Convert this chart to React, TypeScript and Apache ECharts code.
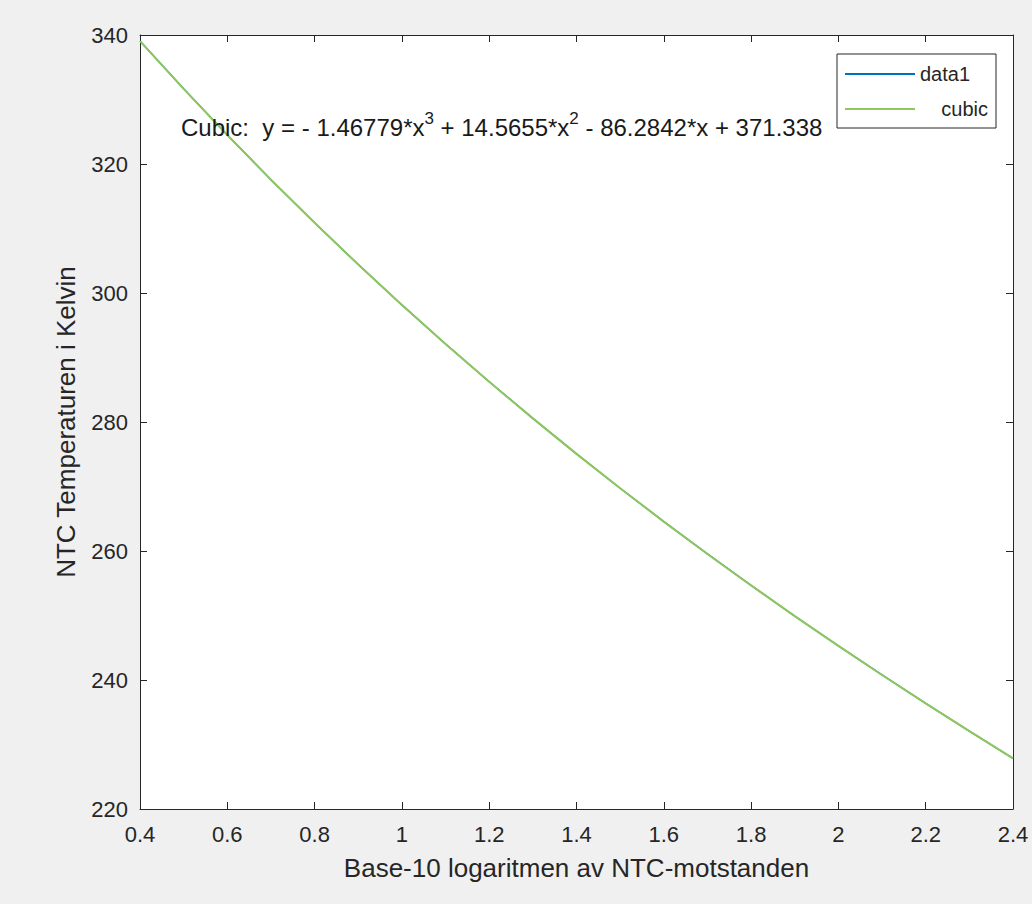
import React, { useEffect, useRef } from "react";
import * as echarts from "echarts";

const xValues = [0.4, 0.5, 0.6, 0.7, 0.8, 0.9, 1.0, 1.1, 1.2, 1.3, 1.4, 1.5, 1.6, 1.7, 1.8, 1.9, 2.0, 2.1, 2.2, 2.3, 2.4];
const data1Values = [339.06, 331.65, 324.49, 317.57, 310.88, 304.41, 298.15, 292.1, 286.24, 280.56, 275.06, 269.73, 264.56, 259.54, 254.66, 249.91, 245.29, 240.78, 236.38, 232.08, 227.86];
const cubicValues = [339.06, 331.65, 324.49, 317.57, 310.88, 304.41, 298.15, 292.1, 286.24, 280.56, 275.06, 269.73, 264.56, 259.54, 254.66, 249.91, 245.29, 240.78, 236.38, 232.08, 227.86];
const seriesNames = ["data1", "cubic"];
const xAxisTitle = "Base-10 logaritmen av NTC-motstanden";
const yAxisTitle = "NTC Temperaturen i Kelvin";
const fitText = "Cubic:  y = - 1.46779*x{sup|3} + 14.5655*x{sup|2} - 86.2842*x + 371.338";

const FONT = "'Liberation Sans', Arial, Helvetica, sans-serif";
const INK = "#262626";

export default function App() {
  const ref = useRef<HTMLDivElement>(null);
  useEffect(() => {
    if (!ref.current) return;
    const chart = echarts.init(ref.current, null, { renderer: "svg" });
    const axisCommon = {
      type: "value" as const,
      axisLine: { show: true, onZero: false, lineStyle: { color: INK, width: 1 } },
      axisTick: { show: true, inside: true, length: 7, lineStyle: { color: INK, width: 1 } },
      splitLine: { show: false },
    };
    chart.setOption({
      animation: false,
      backgroundColor: "#f0f0f0",
      textStyle: { fontFamily: FONT },
      grid: {
        left: 140,
        top: 35,
        width: 873,
        height: 774,
        show: true,
        backgroundColor: "#ffffff",
        borderWidth: 0,
      },
      xAxis: [
        {
          ...axisCommon,
          position: "bottom",
          min: 0.4,
          max: 2.4,
          interval: 0.2,
          axisLabel: { color: INK, fontSize: 22, fontFamily: FONT, margin: 14 },
          name: xAxisTitle,
          nameLocation: "middle",
          nameGap: 46,
          nameTextStyle: { color: INK, fontSize: 26, fontFamily: FONT },
        },
        {
          ...axisCommon,
          position: "top",
          min: 0.4,
          max: 2.4,
          interval: 0.2,
          axisLabel: { show: false },
        },
      ],
      yAxis: [
        {
          ...axisCommon,
          position: "left",
          min: 220,
          max: 340,
          interval: 20,
          axisLabel: { color: INK, fontSize: 22, fontFamily: FONT, margin: 12 },
          name: yAxisTitle,
          nameLocation: "middle",
          nameGap: 61,
          nameRotate: 90,
          nameTextStyle: { color: INK, fontSize: 26, fontFamily: FONT },
        },
        {
          ...axisCommon,
          position: "right",
          min: 220,
          max: 340,
          interval: 20,
          axisLabel: { show: false },
        },
      ],
      legend: {
        orient: "vertical",
        left: 837,
        top: 54,
        data: seriesNames,
        backgroundColor: "#ffffff",
        borderColor: INK,
        borderWidth: 1,
        borderRadius: 0,
        padding: [10, 8, 9, 7],
        itemGap: 15,
        itemWidth: 70,
        itemHeight: 14,
        selectedMode: false,
        itemStyle: { opacity: 0 },
        formatter: (name: string) => (name === "cubic" ? `{r|${name}}` : `{l|${name}}`),
        textStyle: {
          color: INK,
          fontSize: 20,
          fontFamily: FONT,
          rich: {
            l: { width: 68, align: "left", fontSize: 20, fontFamily: FONT, color: INK },
            r: { width: 68, align: "right", fontSize: 20, fontFamily: FONT, color: INK },
          },
        },
      },
      graphic: [
        {
          type: "text",
          left: 181,
          top: 110,
          z: 100,
          style: {
            text: fitText,
            fill: "#1a1a1a",
            fontSize: 24,
            fontFamily: FONT,
            lineHeight: 34,
            rich: {
              sup: { fontSize: 17, lineHeight: 17, verticalAlign: "top", fontFamily: FONT, fill: "#1a1a1a" },
            },
          },
        },
      ],
      series: [
        {
          name: seriesNames[0],
          type: "line",
          xAxisIndex: 0,
          yAxisIndex: 0,
          data: xValues.map((x, i) => [x, data1Values[i]]),
          symbol: "none",
          lineStyle: { color: "#0072BD", width: 1.5 },
          itemStyle: { color: "#0072BD" },
          z: 2,
        },
        {
          name: seriesNames[1],
          type: "line",
          xAxisIndex: 0,
          yAxisIndex: 0,
          data: xValues.map((x, i) => [x, cubicValues[i]]),
          symbol: "none",
          lineStyle: { color: "#8fc75c", width: 2 },
          itemStyle: { color: "#8fc75c" },
          z: 3,
        },
      ],
    });
    return () => chart.dispose();
  }, []);
  return (
    <div
      style={{ position: "fixed", left: 0, top: 0, width: 1032, height: 904, background: "#f0f0f0" }}
    >
      <div ref={ref} style={{ width: 1032, height: 904 }} />
    </div>
  );
}
